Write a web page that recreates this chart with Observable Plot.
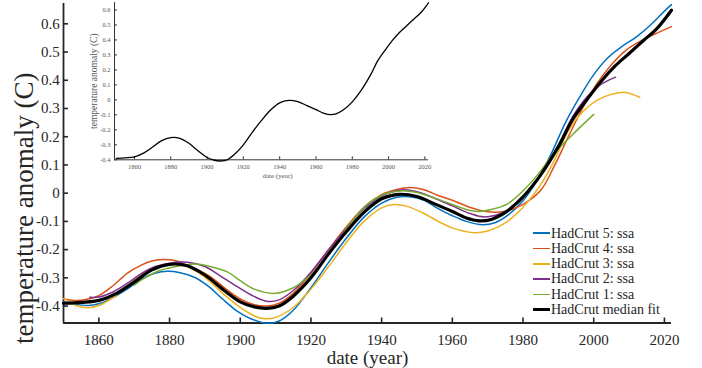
<!DOCTYPE html>
<html><head><meta charset="utf-8">
<script src="https://cdn.jsdelivr.net/npm/d3@7"></script>
<script src="https://cdn.jsdelivr.net/npm/@observablehq/plot@0.6"></script>
<style>
body{margin:0;background:#fff;}
#wrap{position:relative;width:702px;height:368px;font-family:"Liberation Serif",serif;}
#wrap svg, #wrap svg text{font-family:"Liberation Serif",serif !important;}
#mainplot{position:absolute;left:0;top:0;}
#inset{position:absolute;left:84px;top:0;}
#legend{position:absolute;left:533px;top:225.6px;font-size:14px;color:#262626;line-height:15.3px;}
.row{height:15.3px;display:flex;align-items:center;white-space:nowrap;}
.sw{width:17px;margin-right:1px;}
</style></head><body><div id="wrap"><div id="mainplot"></div><div id="inset"></div><div id="legend"></div></div>
<script>
// ---- data ----
const hc5Years = [1850,1853,1857,1860,1864,1868,1872,1876,1879.5,1883,1887,1891,1895,1899,1903,1907.5,1911,1915,1920,1925,1930,1935,1940,1944,1948,1952,1956,1960,1964,1968.5,1972,1976,1980,1984,1988,1992,1996,2000,2004,2008,2012,2016,2020,2022];
const hc5Values = [-0.385,-0.393,-0.398,-0.392,-0.37,-0.34,-0.305,-0.283,-0.277,-0.282,-0.298,-0.33,-0.375,-0.417,-0.445,-0.461,-0.453,-0.415,-0.335,-0.245,-0.16,-0.085,-0.035,-0.015,-0.013,-0.025,-0.055,-0.08,-0.1,-0.112,-0.105,-0.075,-0.027,0.045,0.14,0.25,0.34,0.42,0.48,0.52,0.553,0.595,0.645,0.668];

const hc4Years = [1850,1853,1856,1860,1864,1868,1872,1875,1878,1882,1885,1888.5,1892,1896,1900,1904,1907.5,1911,1915,1920,1925,1930,1935,1940,1944,1948,1952,1956,1960,1965,1970,1975,1980,1985,1989,1993,1997,2001,2005,2009,2013,2017,2022];
const hc4Values = [-0.375,-0.38,-0.378,-0.363,-0.328,-0.284,-0.255,-0.24,-0.235,-0.24,-0.255,-0.275,-0.3,-0.34,-0.375,-0.395,-0.4,-0.39,-0.355,-0.285,-0.2,-0.12,-0.05,-0.005,0.012,0.02,0.012,-0.008,-0.025,-0.05,-0.066,-0.064,-0.04,0.01,0.1,0.205,0.305,0.39,0.455,0.505,0.537,0.562,0.59];

const hc3Years = [1850,1854,1857,1860,1864,1868,1872,1876,1880,1884,1888,1892,1896,1900,1904,1907,1910,1915,1920,1925,1930,1935,1940,1943.5,1947,1952,1956,1960,1966,1970,1975,1980,1985,1989,1993,1997,2001,2005,2009,2013];
const hc3Values = [-0.373,-0.4,-0.406,-0.398,-0.37,-0.33,-0.29,-0.262,-0.251,-0.256,-0.28,-0.32,-0.365,-0.405,-0.435,-0.445,-0.44,-0.405,-0.34,-0.26,-0.175,-0.1,-0.052,-0.04,-0.046,-0.072,-0.1,-0.123,-0.14,-0.134,-0.105,-0.05,0.03,0.12,0.225,0.29,0.33,0.35,0.357,0.34];

const hc2Years = [1857.4,1860,1864,1868,1872,1876,1880,1885,1890,1894,1898,1903,1907.5,1911,1915,1920,1925,1930,1935,1940,1946,1950,1955,1960,1965,1969,1975,1980,1985,1990,1994,1998,2002,2006.2];
const hc2Values = [-0.369,-0.368,-0.35,-0.32,-0.285,-0.26,-0.248,-0.245,-0.26,-0.29,-0.322,-0.36,-0.383,-0.378,-0.345,-0.28,-0.2,-0.125,-0.055,-0.01,0.012,0.005,-0.018,-0.045,-0.072,-0.084,-0.065,-0.015,0.065,0.17,0.27,0.34,0.385,0.411];

const hc1Years = [1870.1,1873,1877,1880.5,1884,1887,1890,1893,1896.5,1900,1904,1910,1915,1918,1922,1926.5,1931,1936,1940.7,1945.4,1950,1955.8,1960,1964,1967,1971,1975.5,1980,1985,1988,1993.4,2000];
const hc1Values = [-0.325,-0.3,-0.275,-0.263,-0.255,-0.251,-0.255,-0.265,-0.28,-0.31,-0.34,-0.355,-0.335,-0.31,-0.265,-0.192,-0.11,-0.039,-0.004,0.008,0.002,-0.021,-0.04,-0.058,-0.065,-0.058,-0.039,0.008,0.079,0.13,0.2,0.279];

const medYears = [1850,1855,1860,1865,1870,1875,1880,1885,1890,1895,1900,1904,1907.5,1911,1915,1920,1925,1930,1935,1940,1945,1950,1955,1960,1964,1967.5,1971,1975,1980,1985,1990,1994,1998,2002,2006,2010,2014,2018,2022];
const medValues = [-0.39,-0.387,-0.38,-0.355,-0.315,-0.272,-0.252,-0.257,-0.29,-0.34,-0.385,-0.403,-0.408,-0.4,-0.365,-0.3,-0.215,-0.137,-0.068,-0.02,-0.004,-0.012,-0.038,-0.065,-0.088,-0.098,-0.093,-0.068,-0.013,0.065,0.165,0.26,0.33,0.395,0.45,0.495,0.54,0.585,0.648];

const seriesNames = ["HadCrut 5: ssa","HadCrut 4: ssa","HadCrut 3: ssa","HadCrut 2: ssa","HadCrut 1: ssa","HadCrut median fit"];
const seriesColors = ["#0072BD","#D95319","#EDB120","#7E2F8E","#77AC30","#000000"];
const xTicks = [1860,1880,1900,1920,1940,1960,1980,2000,2020];
const yTicks = [-0.4,-0.3,-0.2,-0.1,0,0.1,0.2,0.3,0.4,0.5,0.6];
const xDomain = [1850, 2022];
const yDomain = [-0.46, 0.672];
const insetXDomain = [1849, 2022];
const insetYDomain = [-0.4, 0.65];

// ---- build ----
const FONT = '"Liberation Serif", serif';
const rows = (ys, vs) => ys.map((y, i) => ({year: y, value: vs[i]}));
const series = [
  rows(hc5Years, hc5Values), rows(hc4Years, hc4Values), rows(hc3Years, hc3Values),
  rows(hc2Years, hc2Values), rows(hc1Years, hc1Values), rows(medYears, medValues)
];
const fmt = d => String(Math.round(d * 10) / 10);
const axisColor = "#262626";

const main = Plot.plot({
  width: 702, height: 368,
  marginLeft: 63, marginRight: 31, marginTop: 3, marginBottom: 45.5,
  style: {fontFamily: FONT, background: "transparent", color: axisColor, overflow: "visible"},
  x: {domain: xDomain},
  y: {domain: yDomain},
  marks: [
    Plot.axisX({ticks: xTicks, tickSize: -5, tickPadding: 16.3, tickFormat: d => String(d), fontSize: 15, fontFamily: FONT, label: null, stroke: axisColor, strokeWidth: 1.6}),
    Plot.axisY({ticks: yTicks, tickSize: -5, tickPadding: 8.7, tickFormat: fmt, fontSize: 15, fontFamily: FONT, label: null, stroke: axisColor, strokeWidth: 1.6}),
    Plot.ruleY([yDomain[0]], {stroke: axisColor, strokeWidth: 1.8}),
    Plot.ruleX([xDomain[0]], {stroke: axisColor, strokeWidth: 1.8}),
    ...series.map((s, i) => Plot.line(s, {x: "year", y: "value", stroke: seriesColors[i], strokeWidth: i === 5 ? 3.2 : 1.5, curve: "catmull-rom"})),
    Plot.text(["date (year)"], {frameAnchor: "bottom", dy: 34.5, lineAnchor: "middle", textAnchor: "middle", fontSize: 19, fontFamily: FONT, fill: axisColor}),
    Plot.text(["temperature anomaly (C)"], {frameAnchor: "left", dx: -39, dy: 45, rotate: -90, lineAnchor: "middle", textAnchor: "middle", fontSize: 27, fontFamily: FONT, fill: axisColor})
  ]
});
document.getElementById("mainplot").appendChild(main);

const insetColor = "#555";
const inset = Plot.plot({
  width: 350, height: 185,
  marginLeft: 30, marginRight: 6, marginTop: 2, marginBottom: 25.7,
  style: {fontFamily: FONT, background: "transparent", color: insetColor, overflow: "visible"},
  x: {domain: insetXDomain},
  y: {domain: insetYDomain},
  marks: [
    Plot.axisX({ticks: xTicks, tickSize: -3, tickPadding: 7.5, tickFormat: d => String(d), fontSize: 6.5, fontFamily: FONT, label: null, stroke: "#333"}),
    Plot.axisY({ticks: yTicks, tickSize: -3, tickPadding: 7, tickFormat: fmt, fontSize: 6.5, fontFamily: FONT, label: null, stroke: "#333"}),
    Plot.ruleY([insetYDomain[0]], {stroke: "#333", strokeWidth: 1}),
    Plot.ruleX([insetXDomain[0]], {stroke: "#333", strokeWidth: 1}),
    Plot.line(series[5], {x: "year", y: "value", stroke: "#000", strokeWidth: 1.3, curve: "catmull-rom"}),
    Plot.text(["date (year)"], {frameAnchor: "bottom", dy: 15.7, dx: 6, lineAnchor: "middle", textAnchor: "middle", fontSize: 7, fontFamily: FONT, fill: insetColor}),
    Plot.text(["temperature anomaly (C)"], {frameAnchor: "left", dx: -21, rotate: -90, lineAnchor: "middle", textAnchor: "middle", fontSize: 9.5, fontFamily: FONT, fill: insetColor})
  ]
});
document.getElementById("inset").appendChild(inset);

const legend = document.getElementById("legend");
seriesNames.forEach((name, i) => {
  const row = document.createElement("div");
  row.className = "row";
  const sw = document.createElement("span");
  sw.className = "sw";
  sw.style.height = (i === 5 ? 3 : 1.5) + "px";
  sw.style.background = seriesColors[i];
  const t = document.createElement("span");
  t.textContent = name;
  row.appendChild(sw); row.appendChild(t);
  legend.appendChild(row);
});
</script>
</body></html>
